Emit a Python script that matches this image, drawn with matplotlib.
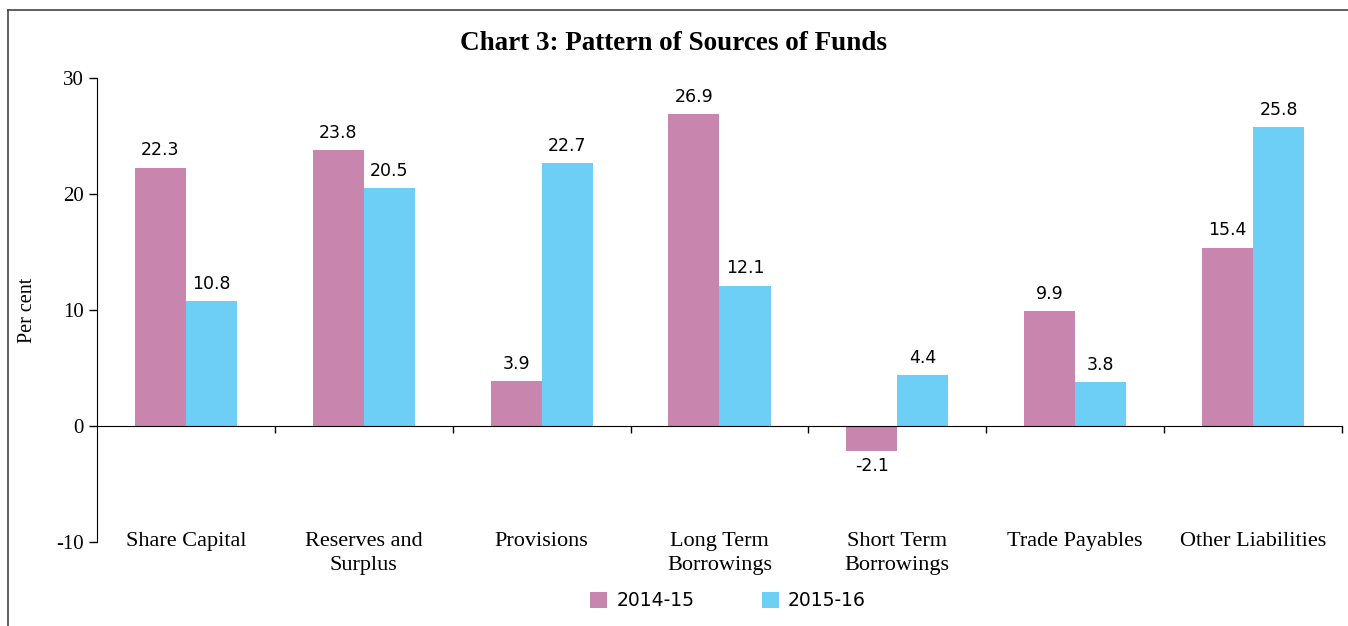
import numpy as np
import matplotlib.pyplot as plt
from matplotlib.lines import Line2D

categories = ["Share Capital", "Reserves and\nSurplus", "Provisions",
              "Long Term\nBorrowings", "Short Term\nBorrowings",
              "Trade Payables", "Other Liabilities"]
years = ["2014-15", "2015-16"]
vals_1415 = [22.3, 23.8, 3.9, 26.9, -2.1, 9.9, 15.4]
vals_1516 = [10.8, 20.5, 22.7, 12.1, 4.4, 3.8, 25.8]

c_pink = "#C886AE"
c_cyan = "#6DCFF6"
serif = "Liberation Serif"
sans = "DejaVu Sans"
plt.rcParams["axes.unicode_minus"] = False

fig = plt.figure(figsize=(13.48, 6.26), dpi=100)
ax = fig.add_axes([0.072, 0.134, 0.9235, 0.741])

x = np.arange(len(categories))
w = 0.287
b1 = ax.bar(x - w / 2, vals_1415, w, color=c_pink, label=years[0])
b2 = ax.bar(x + w / 2, vals_1516, w, color=c_cyan, label=years[1])

for bars in (b1, b2):
    for r in bars:
        v = r.get_height()
        xc = r.get_x() + r.get_width() / 2
        if v >= 0:
            ax.annotate(f"{v:.1f}", (xc, v), xytext=(0, 6), textcoords="offset points",
                        ha="center", va="bottom", fontsize=12.5, family=sans)
        else:
            ax.annotate(f"{v:.1f}", (xc, v), xytext=(0, -5), textcoords="offset points",
                        ha="center", va="top", fontsize=12.5, family=sans)

ax.set_xlim(-0.5, len(categories) - 0.5)
ax.set_ylim(-10, 30)
ax.set_yticks([-10, 0, 10, 20, 30])
ax.tick_params(axis="y", labelsize=15, length=6, width=1)
for t in ax.get_yticklabels():
    t.set_family(serif)

ax.spines["top"].set_visible(False)
ax.spines["right"].set_visible(False)
ax.spines["bottom"].set_position(("data", 0))
ax.set_xticks(np.arange(0.5, len(categories), 1.0))
ax.set_xticklabels([])
ax.tick_params(axis="x", length=5, width=1, direction="out")

for i, cat in enumerate(categories):
    ax.text(i, -9.1, cat, ha="center", va="top", fontsize=16, family=serif,
            linespacing=1.35)

ax.set_ylabel("Per cent", fontsize=14.5, family=serif, labelpad=14)

fig.text(0.5, 0.93, "Chart 3: Pattern of Sources of Funds", ha="center", va="center",
         fontsize=19.5, fontweight="bold", family=serif)

fig.legend(loc="center", bbox_to_anchor=(0.54, 0.04), ncol=2, frameon=False,
           prop={"family": sans, "size": 13.5}, handlelength=0.9, handleheight=0.9,
           columnspacing=3.6, handletextpad=0.5)

# outer frame
fig.add_artist(Line2D([8 / 1348, 8 / 1348], [0, 1 - 10 / 626], transform=fig.transFigure,
                      color="#444444", lw=1.2))
fig.add_artist(Line2D([8 / 1348, 1], [1 - 10 / 626, 1 - 10 / 626], transform=fig.transFigure,
                      color="#444444", lw=1.2))

fig.savefig("out.png", dpi=100)
